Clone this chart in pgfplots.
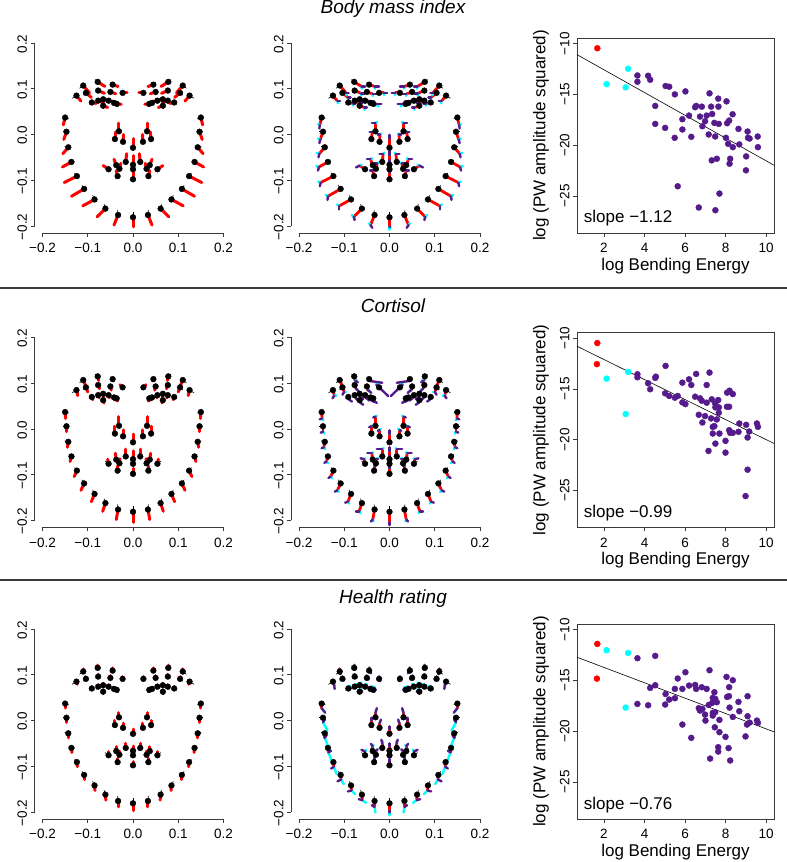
\documentclass[border=0pt]{standalone}
\usepackage{fontspec}
\setmainfont{Liberation Sans}
\usepackage{pgfplots}
\usepackage{pgfplotstable}
\pgfplotsset{compat=1.18}
\definecolor{rpurple}{HTML}{551A8B}
\definecolor{rcyan}{HTML}{00FFFF}
\definecolor{rred}{HTML}{FF0000}
\definecolor{axgray}{HTML}{3A3A3A}

\pgfplotstableread{
x y bu bv
-0.150 0.037 0.008 -0.002
-0.147 0.006 -0.008 0.000
-0.143 -0.028 -0.008 0.002
-0.136 -0.060 -0.006 0.004
-0.124 -0.091 -0.005 0.007
-0.108 -0.119 -0.005 0.008
-0.085 -0.142 -0.004 0.009
-0.061 -0.162 -0.003 0.010
-0.033 -0.176 -0.001 0.011
-0.031 0.007 0.002 -0.006
-0.040 -0.010 0.002 -0.006
-0.022 -0.016 0.002 -0.006
-0.054 -0.076 -0.008 0.006
-0.037 -0.067 -0.005 0.006
-0.030 -0.075 -0.004 -0.005
-0.016 -0.060 -0.003 0.006
-0.034 -0.091 -0.004 -0.006
-0.125 0.085 -0.010 -0.006
-0.110 0.107 -0.008 -0.006
-0.078 0.115 -0.006 0.005
-0.045 0.109 -0.005 0.005
-0.023 0.091 0.004 -0.005
-0.104 0.091 -0.006 -0.005
-0.077 0.096 -0.005 -0.004
-0.050 0.093 -0.004 -0.004
-0.091 0.070 -0.006 -0.004
-0.077 0.074 -0.004 -0.006
-0.066 0.077 -0.002 -0.006
-0.066 0.063 0.000 -0.007
-0.054 0.074 0.002 -0.006
-0.042 0.069 0.004 -0.005
-0.036 0.067 0.004 -0.006
0.150 0.037 -0.008 -0.002
0.147 0.006 0.008 0.000
0.143 -0.028 0.008 0.002
0.136 -0.060 0.006 0.004
0.124 -0.091 0.005 0.007
0.108 -0.119 0.005 0.008
0.085 -0.142 0.004 0.009
0.061 -0.162 0.003 0.010
0.033 -0.176 0.001 0.011
0.031 0.007 -0.002 -0.006
0.040 -0.010 -0.002 -0.006
0.022 -0.016 -0.002 -0.006
0.054 -0.076 0.008 0.006
0.037 -0.067 0.005 0.006
0.030 -0.075 0.004 -0.005
0.016 -0.060 0.003 0.006
0.034 -0.091 0.004 -0.006
0.125 0.085 0.010 -0.006
0.110 0.107 0.008 -0.006
0.078 0.115 0.006 0.005
0.045 0.109 0.005 0.005
0.023 0.091 -0.004 -0.005
0.104 0.091 0.006 -0.005
0.077 0.096 0.005 -0.004
0.050 0.093 0.004 -0.004
0.091 0.070 0.006 -0.004
0.077 0.074 0.004 -0.006
0.066 0.077 0.002 -0.006
0.066 0.063 0.000 -0.007
0.054 0.074 -0.002 -0.006
0.042 0.069 -0.004 -0.005
0.036 0.067 -0.004 -0.006
0 -0.181 0 0.012
0 -0.029 0 -0.006
0 -0.066 0 0.006
0 -0.076 0 -0.005
0 -0.098 0 -0.006
}\shape

\pgfplotstableread{
x y ru rv cu cv pu pv
-0.150 0.037 -0.004 -0.016 -0.004 0.002 -0.001 -0.008
-0.147 0.006 -0.006 -0.017 -0.005 0.002 -0.002 -0.008
-0.143 -0.028 -0.012 -0.014 -0.006 0.002 -0.002 -0.008
-0.136 -0.060 -0.020 -0.011 -0.006 0.002 -0.002 -0.008
-0.124 -0.091 -0.028 -0.014 -0.006 0.002 -0.002 -0.008
-0.108 -0.119 -0.028 -0.016 -0.005 0.003 -0.001 -0.008
-0.085 -0.142 -0.026 -0.014 -0.005 0.003 0.000 -0.008
-0.061 -0.162 -0.018 -0.018 -0.004 0.004 0.002 -0.007
-0.033 -0.176 -0.009 -0.022 -0.003 0.004 0.004 -0.006
-0.031 0.007 0.000 0.018 0.004 0.002 -0.008 0.000
-0.040 -0.010 0.002 0.016 0.004 0.002 -0.006 0.000
-0.022 -0.016 0.001 0.016 0.003 0.002 -0.005 0.000
-0.054 -0.076 -0.012 0.008 0.004 0.002 -0.008 -0.004
-0.037 -0.067 -0.005 0.013 0.004 0.002 -0.008 0.000
-0.030 -0.075 0.003 0.012 0.003 0.002 -0.006 0.000
-0.016 -0.060 0.002 0.018 0.003 0.002 -0.008 0.000
-0.034 -0.091 -0.003 0.012 0.003 0.002 -0.006 0.000
-0.125 0.085 0.010 -0.012 0.001 -0.005 0.006 0.000
-0.110 0.107 0.014 -0.016 0.001 -0.005 0.006 0.000
-0.078 0.115 0.016 -0.010 0.001 -0.005 0.008 0.000
-0.045 0.109 0.012 -0.004 0.001 -0.005 0.010 0.000
-0.023 0.091 0.010 0.000 0.001 -0.005 0.008 0.000
-0.104 0.091 0.012 -0.010 0.001 -0.005 0.006 0.000
-0.077 0.096 0.014 -0.006 0.001 -0.005 0.008 0.000
-0.050 0.093 0.012 -0.004 0.001 -0.005 0.010 0.000
-0.091 0.070 0.010 -0.002 0.001 -0.005 0.006 0.000
-0.077 0.074 0.012 -0.004 0.001 -0.005 0.006 0.000
-0.066 0.077 0.012 -0.003 0.001 -0.005 0.006 0.000
-0.066 0.063 0.010 -0.004 0.001 -0.005 0.006 0.000
-0.054 0.074 0.012 -0.002 0.001 -0.005 0.008 0.000
-0.042 0.069 0.010 -0.002 0.001 -0.005 0.008 0.000
-0.036 0.067 0.010 -0.001 0.001 -0.005 0.008 0.000
0.150 0.037 0.004 -0.016 0.004 0.002 0.001 -0.008
0.147 0.006 0.006 -0.017 0.005 0.002 0.002 -0.008
0.143 -0.028 0.012 -0.014 0.006 0.002 0.002 -0.008
0.136 -0.060 0.020 -0.011 0.006 0.002 0.002 -0.008
0.124 -0.091 0.028 -0.014 0.006 0.002 0.002 -0.008
0.108 -0.119 0.028 -0.016 0.005 0.003 0.001 -0.008
0.085 -0.142 0.026 -0.014 0.005 0.003 0.000 -0.008
0.061 -0.162 0.018 -0.018 0.004 0.004 -0.002 -0.007
0.033 -0.176 0.009 -0.022 0.003 0.004 -0.004 -0.006
0.031 0.007 0.000 0.018 -0.004 0.002 0.008 0.000
0.040 -0.010 -0.002 0.016 -0.004 0.002 0.006 0.000
0.022 -0.016 -0.001 0.016 -0.003 0.002 0.005 0.000
0.054 -0.076 0.012 0.008 -0.004 0.002 0.008 -0.004
0.037 -0.067 0.005 0.013 -0.004 0.002 0.008 0.000
0.030 -0.075 -0.003 0.012 -0.003 0.002 0.006 0.000
0.016 -0.060 -0.002 0.018 -0.003 0.002 0.008 0.000
0.034 -0.091 0.003 0.012 -0.003 0.002 0.006 0.000
0.125 0.085 -0.010 -0.012 -0.001 -0.005 -0.006 0.000
0.110 0.107 -0.014 -0.016 -0.001 -0.005 -0.006 0.000
0.078 0.115 -0.016 -0.010 -0.001 -0.005 -0.008 0.000
0.045 0.109 -0.012 -0.004 -0.001 -0.005 -0.010 0.000
0.023 0.091 -0.010 0.000 -0.001 -0.005 -0.008 0.000
0.104 0.091 -0.012 -0.010 -0.001 -0.005 -0.006 0.000
0.077 0.096 -0.014 -0.006 -0.001 -0.005 -0.008 0.000
0.050 0.093 -0.012 -0.004 -0.001 -0.005 -0.010 0.000
0.091 0.070 -0.010 -0.002 -0.001 -0.005 -0.006 0.000
0.077 0.074 -0.012 -0.004 -0.001 -0.005 -0.006 0.000
0.066 0.077 -0.012 -0.003 -0.001 -0.005 -0.006 0.000
0.066 0.063 -0.010 -0.004 -0.001 -0.005 -0.006 0.000
0.054 0.074 -0.012 -0.002 -0.001 -0.005 -0.008 0.000
0.042 0.069 -0.010 -0.002 -0.001 -0.005 -0.008 0.000
0.036 0.067 -0.010 -0.001 -0.001 -0.005 -0.008 0.000
0 -0.181 0 -0.021 0 -0.006 0.002 0
0 -0.029 0 0.020 0 0.004 0 0.008
0 -0.066 0 0.020 0 0.006 0 0.010
0 -0.076 0 0.014 0 0.004 0 0.006
0 -0.098 0 0.015 0 0.004 0 0.006
}\rowA

\pgfplotstableread{
x y ru rv cu cv pu pv
-0.150 0.037 0.001 -0.014 0.003 -0.004 -0.005 -0.002
-0.147 0.006 0.000 -0.012 0.003 -0.004 -0.005 -0.002
-0.143 -0.028 -0.002 -0.012 0.003 -0.004 -0.005 -0.002
-0.136 -0.060 -0.003 -0.011 0.003 -0.004 -0.005 -0.003
-0.124 -0.091 -0.006 -0.013 0.003 -0.004 -0.005 -0.003
-0.108 -0.119 -0.007 -0.015 0.003 -0.004 -0.006 -0.003
-0.085 -0.142 -0.007 -0.017 0.003 -0.004 -0.006 -0.002
-0.061 -0.162 -0.006 -0.018 0.003 -0.004 -0.007 0.000
-0.033 -0.176 -0.004 -0.022 0.002 -0.004 -0.004 -0.004
-0.031 0.007 0.000 0.020 0.003 0.002 -0.005 -0.002
-0.040 -0.010 0.000 0.016 0.003 0.002 -0.005 -0.002
-0.022 -0.016 0.000 0.014 0.003 0.002 -0.004 -0.002
-0.054 -0.076 -0.002 0.010 0.003 0.002 -0.008 0.002
-0.037 -0.067 -0.002 0.014 0.003 0.002 -0.010 0.000
-0.030 -0.075 0.001 0.010 0.003 0.002 0.004 0.000
-0.016 -0.060 0.000 0.016 0.003 0.002 -0.012 0.000
-0.034 -0.091 0.000 0.010 0.003 0.002 0.004 0.000
-0.125 0.085 0.003 -0.012 0.004 0.000 -0.004 -0.006
-0.110 0.107 0.006 -0.014 0.004 0.000 -0.004 -0.006
-0.078 0.115 0.002 -0.009 0.004 0.000 0.006 -0.004
-0.045 0.109 0.001 -0.004 0.004 0.000 0.028 -0.004
-0.023 0.091 -0.006 0.006 0.004 0.000 0.026 -0.025
-0.104 0.091 0.004 -0.010 0.004 0.000 -0.004 -0.006
-0.077 0.096 0.003 -0.008 0.004 0.000 0.006 -0.006
-0.050 0.093 0.002 -0.008 0.004 0.000 0.008 -0.006
-0.091 0.070 0.002 -0.006 0.002 0.004 0.006 -0.004
-0.077 0.074 0.002 -0.006 0.002 0.004 0.006 -0.006
-0.066 0.077 0.002 -0.006 0.002 0.004 0.006 -0.006
-0.066 0.063 0.002 -0.006 0.002 0.004 0.006 -0.004
-0.054 0.074 0.002 -0.006 0.002 0.004 0.008 -0.006
-0.042 0.069 0.002 -0.006 0.002 0.004 0.006 -0.004
-0.036 0.067 0.002 -0.006 0.002 0.004 0.006 -0.004
0.150 0.037 -0.001 -0.014 -0.003 -0.004 0.005 -0.002
0.147 0.006 0.000 -0.012 -0.003 -0.004 0.005 -0.002
0.143 -0.028 0.002 -0.012 -0.003 -0.004 0.005 -0.002
0.136 -0.060 0.003 -0.011 -0.003 -0.004 0.005 -0.003
0.124 -0.091 0.006 -0.013 -0.003 -0.004 0.005 -0.003
0.108 -0.119 0.007 -0.015 -0.003 -0.004 0.006 -0.003
0.085 -0.142 0.007 -0.017 -0.003 -0.004 0.006 -0.002
0.061 -0.162 0.006 -0.018 -0.003 -0.004 0.007 0.000
0.033 -0.176 0.004 -0.022 -0.002 -0.004 0.004 -0.004
0.031 0.007 0.000 0.020 -0.003 0.002 0.005 -0.002
0.040 -0.010 0.000 0.016 -0.003 0.002 0.005 -0.002
0.022 -0.016 0.000 0.014 -0.003 0.002 0.004 -0.002
0.054 -0.076 0.002 0.010 -0.003 0.002 0.008 0.002
0.037 -0.067 0.002 0.014 -0.003 0.002 0.010 0.000
0.030 -0.075 -0.001 0.010 -0.003 0.002 -0.004 0.000
0.016 -0.060 0.000 0.016 -0.003 0.002 0.012 0.000
0.034 -0.091 0.000 0.010 -0.003 0.002 -0.004 0.000
0.125 0.085 -0.003 -0.012 -0.004 0.000 0.004 -0.006
0.110 0.107 -0.006 -0.014 -0.004 0.000 0.004 -0.006
0.078 0.115 -0.002 -0.009 -0.004 0.000 -0.006 -0.004
0.045 0.109 -0.001 -0.004 -0.004 0.000 -0.028 -0.004
0.023 0.091 0.006 0.006 -0.004 0.000 -0.026 -0.025
0.104 0.091 -0.004 -0.010 -0.004 0.000 0.004 -0.006
0.077 0.096 -0.003 -0.008 -0.004 0.000 -0.006 -0.006
0.050 0.093 -0.002 -0.008 -0.004 0.000 -0.008 -0.006
0.091 0.070 -0.002 -0.006 -0.002 0.004 -0.006 -0.004
0.077 0.074 -0.002 -0.006 -0.002 0.004 -0.006 -0.006
0.066 0.077 -0.002 -0.006 -0.002 0.004 -0.006 -0.006
0.066 0.063 -0.002 -0.006 -0.002 0.004 -0.006 -0.004
0.054 0.074 -0.002 -0.006 -0.002 0.004 -0.008 -0.006
0.042 0.069 -0.002 -0.006 -0.002 0.004 -0.006 -0.004
0.036 0.067 -0.002 -0.006 -0.002 0.004 -0.006 -0.004
0 -0.181 0 -0.023 0 -0.004 0 -0.006
0 -0.029 0 0.018 0 0.004 0 0.008
0 -0.066 0 0.018 0 0.004 0 0.008
0 -0.076 0 0.012 0 0.004 0 0.006
0 -0.098 0 0.012 0 0.004 0 0.006
}\rowB

\pgfplotstableread{
x y ru rv cu cv pu pv
-0.150 0.037 0.000 -0.010 0.004 -0.006 0.008 -0.010
-0.147 0.006 0.000 -0.010 0.010 -0.018 0.004 0.006
-0.143 -0.028 0.000 -0.010 0.008 -0.020 0.004 0.006
-0.136 -0.060 0.001 -0.010 0.008 -0.020 0.006 0.004
-0.124 -0.091 0.001 -0.010 0.006 -0.016 -0.006 -0.004
-0.108 -0.119 0.001 -0.010 0.006 -0.010 -0.008 -0.004
-0.085 -0.142 0.001 -0.011 0.008 -0.008 -0.008 -0.002
-0.061 -0.162 0.001 -0.012 0.008 -0.006 -0.008 0.002
-0.033 -0.176 0.000 -0.013 0.002 -0.012 -0.006 0.004
-0.031 0.007 0.000 0.010 0.002 0.004 0.003 0.010
-0.040 -0.010 0.000 0.010 0.002 0.004 0.000 0.006
-0.022 -0.016 0.000 0.010 0.002 0.004 0.003 0.008
-0.054 -0.076 0.000 0.008 0.002 0.004 -0.008 0.004
-0.037 -0.067 0.000 0.010 0.002 0.004 -0.004 0.006
-0.030 -0.075 0.000 0.008 0.002 0.004 0.004 0.004
-0.016 -0.060 0.000 0.010 0.002 0.004 -0.002 0.008
-0.034 -0.091 0.000 0.008 0.002 0.004 0.002 0.004
-0.125 0.085 0.002 -0.006 0.002 -0.004 0.002 -0.010
-0.110 0.107 0.000 0.006 0.002 -0.004 0.002 -0.012
-0.078 0.115 0.000 0.006 0.002 -0.004 0.002 -0.010
-0.045 0.109 0.000 0.006 0.002 -0.004 0.004 -0.012
-0.023 0.091 0.000 0.005 0.002 -0.004 0.002 -0.010
-0.104 0.091 0.000 0.005 0.002 -0.004 0.004 -0.008
-0.077 0.096 0.000 0.005 0.002 -0.004 0.004 -0.008
-0.050 0.093 0.000 0.005 0.002 -0.004 0.004 -0.008
-0.091 0.070 0.000 0.004 0.004 0.002 0.006 -0.004
-0.077 0.074 0.000 0.004 0.004 0.002 0.006 -0.004
-0.066 0.077 0.000 0.004 0.004 0.002 0.006 -0.004
-0.066 0.063 0.000 0.004 0.004 0.002 0.006 -0.004
-0.054 0.074 0.000 0.004 0.004 0.002 0.006 -0.004
-0.042 0.069 0.000 0.004 0.004 0.002 0.006 -0.004
-0.036 0.067 0.000 0.004 0.004 0.002 0.006 -0.004
0.150 0.037 0.000 -0.010 -0.004 -0.006 -0.008 -0.010
0.147 0.006 0.000 -0.010 -0.010 -0.018 -0.004 0.006
0.143 -0.028 0.000 -0.010 -0.008 -0.020 -0.004 0.006
0.136 -0.060 -0.001 -0.010 -0.008 -0.020 -0.006 0.004
0.124 -0.091 -0.001 -0.010 -0.006 -0.016 0.006 -0.004
0.108 -0.119 -0.001 -0.010 -0.006 -0.010 0.008 -0.004
0.085 -0.142 -0.001 -0.011 -0.008 -0.008 0.008 -0.002
0.061 -0.162 -0.001 -0.012 -0.008 -0.006 0.008 0.002
0.033 -0.176 0.000 -0.013 -0.002 -0.012 0.006 0.004
0.031 0.007 0.000 0.010 -0.002 0.004 -0.003 0.010
0.040 -0.010 0.000 0.010 -0.002 0.004 0.000 0.006
0.022 -0.016 0.000 0.010 -0.002 0.004 -0.003 0.008
0.054 -0.076 0.000 0.008 -0.002 0.004 0.008 0.004
0.037 -0.067 0.000 0.010 -0.002 0.004 0.004 0.006
0.030 -0.075 0.000 0.008 -0.002 0.004 -0.004 0.004
0.016 -0.060 0.000 0.010 -0.002 0.004 0.002 0.008
0.034 -0.091 0.000 0.008 -0.002 0.004 -0.002 0.004
0.125 0.085 -0.002 -0.006 -0.002 -0.004 -0.002 -0.010
0.110 0.107 0.000 0.006 -0.002 -0.004 -0.002 -0.012
0.078 0.115 0.000 0.006 -0.002 -0.004 -0.002 -0.010
0.045 0.109 0.000 0.006 -0.002 -0.004 -0.004 -0.012
0.023 0.091 0.000 0.005 -0.002 -0.004 -0.002 -0.010
0.104 0.091 0.000 0.005 -0.002 -0.004 -0.004 -0.008
0.077 0.096 0.000 0.005 -0.002 -0.004 -0.004 -0.008
0.050 0.093 0.000 0.005 -0.002 -0.004 -0.004 -0.008
0.091 0.070 0.000 0.004 -0.004 0.002 -0.006 -0.004
0.077 0.074 0.000 0.004 -0.004 0.002 -0.006 -0.004
0.066 0.077 0.000 0.004 -0.004 0.002 -0.006 -0.004
0.066 0.063 0.000 0.004 -0.004 0.002 -0.006 -0.004
0.054 0.074 0.000 0.004 -0.004 0.002 -0.006 -0.004
0.042 0.069 0.000 0.004 -0.004 0.002 -0.006 -0.004
0.036 0.067 0.000 0.004 -0.004 0.002 -0.006 -0.004
0 -0.181 0 -0.016 0 -0.010 0 -0.004
0 -0.029 0 0.010 0 0.004 0 0.006
0 -0.066 0 0.010 0 0.004 0 0.006
0 -0.076 0 0.008 0 0.004 0 0.006
0 -0.098 0 0.008 0 0.004 0 0.006
}\rowC

% scatter data: log bending energy vs log PW amplitude squared
\pgfplotstableread{
x y
3.65 -13.14
3.65 -13.76
4.18 -13.17
4.28 -13.56
4.53 -16.14
4.53 -17.91
5.04 -14.18
5.22 -14.25
5.02 -18.30
5.50 -15.00
6.02 -14.71
5.49 -19.28
5.87 -17.45
5.87 -18.46
6.20 -17.09
6.31 -19.18
6.50 -16.27
6.55 -16.14
6.83 -16.21
6.74 -17.19
6.86 -18.14
6.99 -17.65
7.07 -17.09
7.21 -14.90
7.29 -16.21
7.17 -18.95
7.34 -16.93
7.45 -17.81
7.49 -19.15
7.64 -15.42
7.65 -16.21
7.67 -17.91
7.32 -21.50
7.57 -21.34
8.05 -15.69
8.08 -17.84
8.18 -17.58
8.35 -16.96
8.02 -19.28
8.13 -19.87
8.36 -20.20
8.23 -21.34
8.20 -21.83
8.64 -18.40
8.68 -19.93
9.09 -18.66
9.11 -19.28
9.19 -19.35
9.02 -21.11
9.01 -22.48
9.59 -19.15
9.60 -20.20
5.64 -24.05
6.68 -26.14
7.50 -26.41
7.70 -24.77
}\scatAp
\pgfplotstableread{
x y
2.13 -13.99
3.07 -14.31
3.19 -12.48
}\scatAc
\pgfplotstableread{
x y
1.67 -10.46
}\scatAr

\pgfplotstableread{
x y
3.65 -13.56
3.65 -13.86
4.18 -14.45
4.28 -15.04
4.53 -13.92
4.56 -13.80
5.04 -12.74
5.02 -15.44
5.22 -15.70
5.50 -15.87
5.64 -15.70
5.87 -14.39
5.87 -16.33
6.02 -16.50
6.20 -14.06
6.31 -14.62
6.55 -13.53
6.50 -15.77
6.74 -15.93
6.83 -16.17
6.68 -17.55
6.86 -18.31
6.99 -17.68
7.07 -14.62
7.07 -16.36
7.21 -13.40
7.29 -17.91
7.32 -16.03
7.49 -16.43
7.37 -18.74
7.37 -19.40
7.50 -16.82
7.45 -18.67
7.57 -18.01
7.64 -16.10
7.67 -16.82
7.67 -17.35
7.50 -20.39
7.70 -19.40
7.16 -21.11
8.00 -20.12
8.00 -21.28
8.08 -15.37
8.20 -15.18
8.36 -15.51
8.07 -16.76
8.18 -16.76
8.18 -19.07
8.23 -19.33
8.36 -19.33
8.64 -19.23
8.68 -18.41
9.02 -18.54
9.09 -19.79
9.17 -19.20
9.09 -22.96
8.99 -25.56
9.55 -18.41
9.60 -18.74
}\scatBp
\pgfplotstableread{
x y
2.13 -13.99
3.19 -13.33
3.07 -17.48
}\scatBc
\pgfplotstableread{
x y
1.67 -10.49
1.65 -12.57
}\scatBr

\pgfplotstableread{
x y
3.65 -12.82
3.65 -17.32
4.18 -17.45
4.28 -15.74
4.53 -12.59
4.53 -15.48
5.04 -16.34
5.02 -17.38
5.22 -16.89
5.50 -16.76
5.50 -15.84
5.64 -14.82
5.87 -15.84
5.87 -19.35
6.02 -14.20
6.20 -15.51
6.31 -20.66
6.50 -15.45
6.55 -15.84
6.83 -15.68
6.68 -17.74
6.74 -17.97
6.86 -17.81
6.99 -18.37
7.07 -15.84
7.01 -18.96
7.17 -17.42
7.21 -14.00
7.24 -22.70
7.34 -17.22
7.37 -16.73
7.37 -18.20
7.37 -18.47
7.45 -16.17
7.49 -16.82
7.49 -18.14
7.47 -19.62
7.57 -17.15
7.70 -18.89
7.70 -20.10
7.64 -21.58
7.64 -22.01
8.00 -20.56
8.05 -14.66
8.08 -16.63
8.17 -16.56
8.18 -15.67
8.20 -17.68
8.15 -21.67
8.23 -22.89
8.36 -14.99
8.36 -18.60
8.64 -17.12
8.68 -18.04
8.99 -20.52
9.06 -19.35
9.09 -16.56
9.09 -18.53
9.19 -19.16
9.55 -18.96
9.60 -19.19
}\scatCp
\pgfplotstableread{
x y
2.13 -12.03
3.19 -12.30
3.07 -17.68
}\scatCc
\pgfplotstableread{
x y
1.67 -11.41
1.65 -14.83
}\scatCr

\pgfplotsset{
  face/.style={
    scale only axis, width=197pt, height=197pt,
    xmin=-0.2177, xmax=0.2177, ymin=-0.2153, ymax=0.2153,
    axis x line*=bottom, axis y line*=left,
    x axis line style={-, axgray, line width=0.7pt, shorten <=8pt, shorten >=8pt},
    y axis line style={-, axgray, line width=0.7pt, shorten <=7pt, shorten >=7pt},
    xtick={-0.2,-0.1,0,0.1,0.2}, xticklabels={−0.2,−0.1,0.0,0.1,0.2},
    ytick={-0.2,-0.1,0,0.1,0.2}, yticklabels={−0.2,−0.1,0.0,0.1,0.2},
    tick align=outside, major tick length=4pt,
    tick style={axgray, line width=0.7pt},
    ticklabel style={font=\fontsize{13.5}{16}\selectfont},
    xticklabel style={yshift=-3pt},
    yticklabel style={rotate=90, anchor=south, xshift=-1pt},
    clip=false,
  },
  scat/.style={
    scale only axis, width=197pt, height=195pt,
    xmin=0.667, xmax=10.395, ymin=-28.65, ymax=-9.45,
    xtick={2,4,6,8,10}, ytick={-25,-20,-15,-10},
    xticklabels={2,4,6,8,10}, yticklabels={−25,−20,−15,−10},
    xtick pos=left, ytick pos=left,
    tick align=outside, major tick length=4pt,
    axis line style={axgray, line width=0.7pt},
    tick style={axgray, line width=0.7pt},
    ticklabel style={font=\fontsize{13.5}{16}\selectfont},
    xticklabel style={yshift=-3pt},
    yticklabel style={rotate=90, anchor=south},
    label style={font=\fontsize{17}{20}\selectfont},
    xlabel={log Bending Energy},
    ylabel={log (PW amplitude squared)},
    xlabel style={at={(axis description cs:0.5,-0.169)}, anchor=center},
    ylabel style={at={(axis description cs:-0.183,0.5)}, anchor=center},
    clip=false,
  },
}

\newcommand{\leftpanel}[2]{%
\begin{axis}[face, at={(34.5pt,#2)}, anchor=south west]
\addplot[quiver={u=\thisrow{bu},v=\thisrow{bv}}, black, line width=0.6pt, no markers] table[x=x,y=y]{\shape};
\addplot[only marks, mark=*, mark size=2.9pt, black] table[x=x,y=y]{\shape};
\addplot[quiver={u=\thisrow{ru},v=\thisrow{rv}}, rred, line width=3pt, line cap=round, no markers] table[x=x,y=y]{#1};
\end{axis}}

\newcommand{\midpanel}[2]{%
\begin{axis}[face, at={(291pt,#2)}, anchor=south west]
\addplot[quiver={u=\thisrow{bu},v=\thisrow{bv}}, black, line width=0.6pt, no markers] table[x=x,y=y]{\shape};
\addplot[only marks, mark=*, mark size=2.9pt, black] table[x=x,y=y]{\shape};
\addplot[quiver={u=\thisrow{ru},v=\thisrow{rv}}, rred, line width=2.8pt, line cap=round, no markers] table[x=x,y=y]{#1};
\addplot[quiver={u=\thisrow{cu},v=\thisrow{cv}}, rcyan, line width=2.4pt, line cap=round, no markers] table[x expr=\thisrow{x}+\thisrow{ru}, y expr=\thisrow{y}+\thisrow{rv}]{#1};
\addplot[quiver={u=\thisrow{pu},v=\thisrow{pv}}, rpurple, line width=2.4pt, line cap=round, no markers] table[x expr=\thisrow{x}+\thisrow{ru}, y expr=\thisrow{y}+\thisrow{rv}]{#1};
\end{axis}}

\begin{document}
\begin{tikzpicture}
\path[use as bounding box] (0,0) rectangle (787pt,862pt);
\draw[axgray, line width=2pt] (0,574pt) -- (787pt,574pt);
\draw[axgray, line width=2pt] (0,281.5pt) -- (787pt,281.5pt);
\node[anchor=base, inner sep=0] at (393pt,848.5pt) {\fontsize{19}{22}\selectfont\itshape Body mass index};
\node[anchor=base, inner sep=0] at (393pt,549pt) {\fontsize{19}{22}\selectfont\itshape Cortisol};
\node[anchor=base, inner sep=0] at (393pt,258pt) {\fontsize{19}{22}\selectfont\itshape Health rating};

\leftpanel{\rowA}{629pt}
\midpanel{\rowA}{629pt}
\leftpanel{\rowB}{334.5pt}
\midpanel{\rowB}{334.5pt}
\leftpanel{\rowC}{43pt}
\midpanel{\rowC}{43pt}

\begin{axis}[scat, at={(577pt,629pt)}, anchor=south west]
\addplot[black, line width=0.6pt, no markers] coordinates {(0.667,-11.09) (10.395,-21.98)};
\addplot[only marks, mark=*, mark size=3pt, rpurple] table[x=x,y=y]{\scatAp};
\addplot[only marks, mark=*, mark size=3pt, rcyan] table[x=x,y=y]{\scatAc};
\addplot[only marks, mark=*, mark size=3pt, rred] table[x=x,y=y]{\scatAr};
\node[anchor=west, inner sep=0, font=\fontsize{17}{20}\selectfont] at (axis cs:1.0,-27.2) {slope −1.12};
\end{axis}

\begin{axis}[scat, at={(577pt,334.5pt)}, anchor=south west]
\addplot[black, line width=0.6pt, no markers] coordinates {(0.667,-10.80) (10.395,-20.38)};
\addplot[only marks, mark=*, mark size=3pt, rpurple] table[x=x,y=y]{\scatBp};
\addplot[only marks, mark=*, mark size=3pt, rcyan] table[x=x,y=y]{\scatBc};
\addplot[only marks, mark=*, mark size=3pt, rred] table[x=x,y=y]{\scatBr};
\node[anchor=west, inner sep=0, font=\fontsize{17}{20}\selectfont] at (axis cs:1.0,-27.24) {slope −0.99};
\end{axis}

\begin{axis}[scat, at={(577pt,43pt)}, anchor=south west]
\addplot[black, line width=0.6pt, no markers] coordinates {(0.667,-12.72) (10.395,-20.07)};
\addplot[only marks, mark=*, mark size=3pt, rpurple] table[x=x,y=y]{\scatCp};
\addplot[only marks, mark=*, mark size=3pt, rcyan] table[x=x,y=y]{\scatCc};
\addplot[only marks, mark=*, mark size=3pt, rred] table[x=x,y=y]{\scatCr};
\node[anchor=west, inner sep=0, font=\fontsize{17}{20}\selectfont] at (axis cs:1.0,-27.33) {slope −0.76};
\end{axis}
\end{tikzpicture}
\end{document}
